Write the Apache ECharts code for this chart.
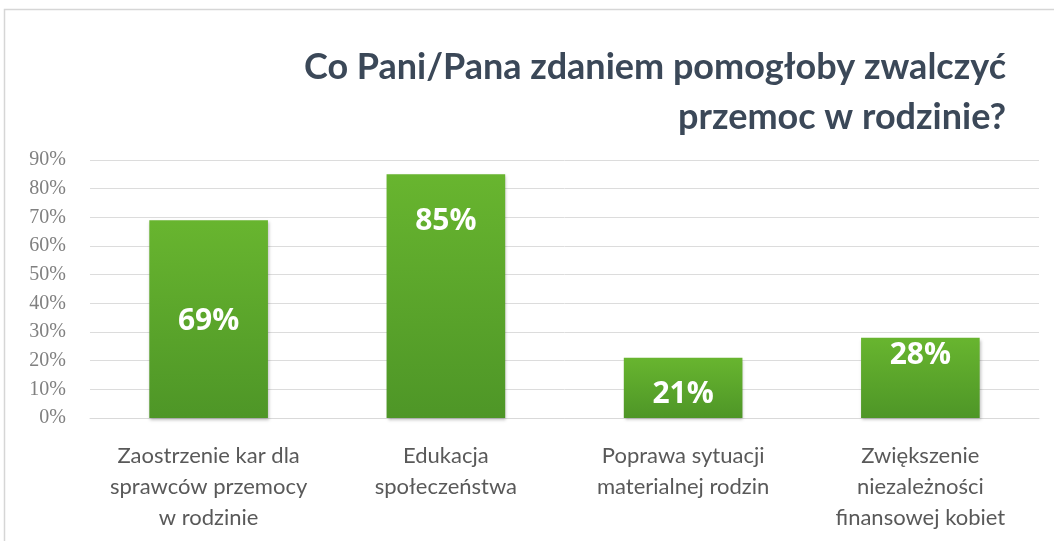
<!DOCTYPE html>
<html>
<head>
<meta charset="utf-8">
<script src="https://cdn.jsdelivr.net/npm/echarts@6/dist/echarts.min.js"></script>
<style>
  html, body { margin: 0; padding: 0; background: #fff; }
  #chart { width: 1054px; height: 541px; }
</style>
</head>
<body>
<div id="chart"></div>
<script>
const titleLines = ['Co Pani/Pana zdaniem pomogłoby zwalczyć', 'przemoc w rodzinie?']
const categories = [
  'Zaostrzenie kar dla\nsprawców przemocy\nw rodzinie',
  'Edukacja\nspołeczeństwa',
  'Poprawa sytuacji\nmaterialnej rodzin',
  'Zwiększenie\nniezależności\nfinansowej kobiet'
]
const values = [69, 85, 21, 28]
const yTicks = [0, 10, 20, 30, 40, 50, 60, 70, 80, 90]

// label placement per bar (the original had them placed by hand)
const labelPlace = [
  { position: 'inside', offset: [0, 2] },
  { position: 'insideTop', distance: 32 },
  { position: 'inside', offset: [0, 7] },
  { position: 'insideTop', distance: 3 }
]

const chart = echarts.init(document.getElementById('chart'))

const titleStyle = {
  fontFamily: 'Lato',
  fontSize: 36,
  fontWeight: 'bold',
  fill: '#3b4858'
}

const options = {
  animation: false,
  graphic: [
    {
      type: 'rect',
      shape: { x: 4.5, y: 9.5, width: 1060, height: 560 },
      style: { fill: 'none', stroke: '#d6d6d6', lineWidth: 1.5 },
      z: -1
    },
    // title, each line right aligned like the original
    {
      type: 'text',
      right: 48,
      top: 49,
      style: Object.assign({ text: titleLines[0] }, titleStyle)
    },
    {
      type: 'text',
      right: 48,
      top: 99,
      style: Object.assign({ text: titleLines[1] }, titleStyle)
    }
  ],
  grid: {
    left: 90,
    right: 15,
    top: 160,
    bottom: 123
  },
  xAxis: {
    type: 'category',
    data: categories,
    axisLine: { lineStyle: { color: '#d9d9d9' } },
    axisTick: { show: false },
    axisLabel: {
      interval: 0,
      margin: 22,
      fontFamily: 'Lato',
      fontSize: 22,
      lineHeight: 31,
      color: '#595959'
    }
  },
  yAxis: {
    type: 'value',
    min: yTicks[0],
    max: yTicks[yTicks.length - 1],
    interval: 10,
    axisLine: { show: false },
    axisTick: { show: false },
    splitLine: { lineStyle: { color: '#dcdcdc' } },
    axisLabel: {
      margin: 24,
      fontFamily: 'Liberation Serif',
      fontSize: 20,
      color: '#808080',
      formatter: '{value}%'
    }
  },
  series: [
    {
      type: 'bar',
      barWidth: '50%',
      data: values.map((v, i) => ({
        value: v,
        label: labelPlace[i]
      })),
      itemStyle: {
        color: new echarts.graphic.LinearGradient(0, 0, 0, 1, [
          { offset: 0, color: '#68b52f' },
          { offset: 1, color: '#4e9627' }
        ]),
        shadowColor: 'rgba(0,0,0,0.25)',
        shadowBlur: 3,
        shadowOffsetX: 1,
        shadowOffsetY: 2
      },
      label: {
        show: true,
        formatter: '{c}%',
        fontFamily: 'Open Sans',
        fontSize: 30,
        fontWeight: 'bold',
        color: '#ffffff'
      }
    }
  ]
}

chart.setOption(options)
</script>
</body>
</html>
